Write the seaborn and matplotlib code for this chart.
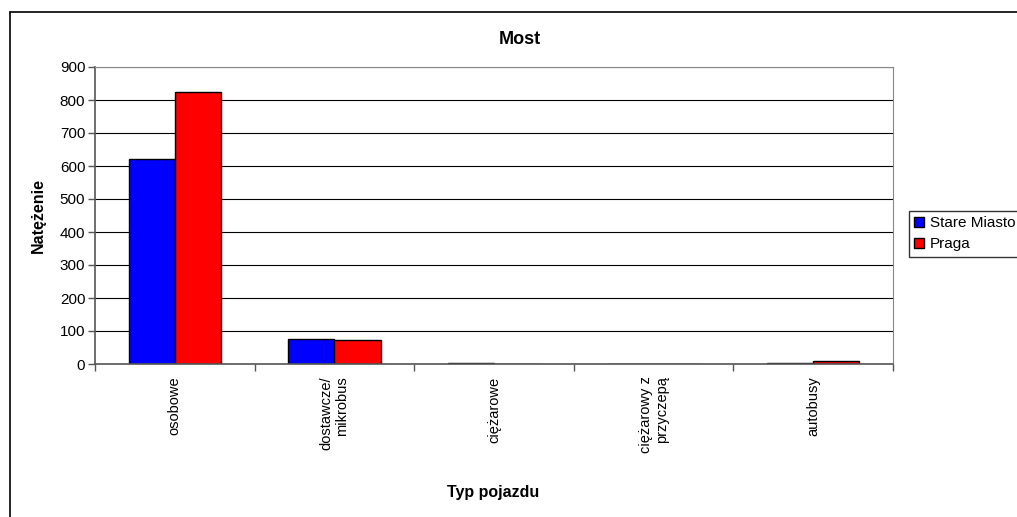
import matplotlib
matplotlib.use("Agg")
import matplotlib.pyplot as plt
from matplotlib.lines import Line2D
import seaborn as sns
import pandas as pd

categories = ["osobowe", "dostawcze/\nmikrobus", "ciężarowe", "ciężarowy z\nprzyczepą", "autobusy"]
series_names = ["Stare Miasto", "Praga"]
stare_miasto = [620, 77, 3, 0, 3]
praga = [823, 73, 0, 0, 8]
y_ticks = [0, 100, 200, 300, 400, 500, 600, 700, 800, 900]

rows = []
for cat, a, b in zip(categories, stare_miasto, praga):
    rows.append({"Typ": cat, "Seria": series_names[0], "Wartosc": a})
    rows.append({"Typ": cat, "Seria": series_names[1], "Wartosc": b})
df = pd.DataFrame(rows)

sns.set_theme(style="white")
plt.rcParams["font.family"] = ["Liberation Sans", "DejaVu Sans"]
plt.rcParams["text.color"] = "black"
plt.rcParams["axes.labelcolor"] = "black"
plt.rcParams["xtick.labelcolor"] = "black"
plt.rcParams["ytick.labelcolor"] = "black"

W, H = 1017, 517
fig = plt.figure(figsize=(W / 100, H / 100), dpi=100)
ax = fig.add_axes([95 / W, 1 - 364 / H, (893 - 95) / W, (364 - 67) / H])

sns.barplot(data=df, x="Typ", y="Wartosc", hue="Seria", order=categories,
            hue_order=series_names, palette=["#0000FF", "#FF0000"],
            width=0.58, edgecolor="black", linewidth=1.0, saturation=1,
            ax=ax, legend=True)

ax.set_ylim(0, 900)
ax.set_xlim(-0.5, len(categories) - 0.5)
ax.set_yticks(y_ticks)
ax.set_yticklabels([str(t) for t in y_ticks], fontsize=11, color="black")
ax.yaxis.grid(True, color="black", linewidth=0.8)
ax.set_axisbelow(True)

# category labels, rotated, with boundary tick marks between categories
ax.set_xticks(range(len(categories)))
ax.set_xticklabels(categories, rotation=90, fontsize=10.5, va="top", ha="center",
                   multialignment="right", color="black")
ax.tick_params(axis="x", length=0, pad=9)
ax.set_xticks([i - 0.5 for i in range(len(categories) + 1)], minor=True)
ax.tick_params(axis="x", which="minor", length=5, color="#555555", width=1, direction="out",
               bottom=True)
ax.tick_params(axis="y", length=5, color="#555555", width=1, direction="out", left=True,
               pad=2)

for side in ["left", "bottom"]:
    ax.spines[side].set_color("#555555")
    ax.spines[side].set_linewidth(1.2)
for side in ["top", "right"]:
    ax.spines[side].set_color("#888888")
    ax.spines[side].set_linewidth(0.8)

fig.text(520 / W, 1 - 40 / H, "Most", fontsize=13, fontweight="bold",
         ha="center", va="center", color="black")
ax.set_xlabel("Typ pojazdu", fontsize=11.5, fontweight="bold", color="black")
ax.set_ylabel("Natężenie", fontsize=11.5, fontweight="bold", color="black")
ax.xaxis.set_label_coords((493 - 95) / (893 - 95), -(492 - 364) / (364 - 67))
ax.yaxis.set_label_coords(-(95 - 38) / (893 - 95), 0.5)
ax.xaxis.label.set_va("center")
ax.yaxis.label.set_va("center")

leg = ax.legend(loc="upper left", bbox_to_anchor=(909 / W, 1 - 211 / H),
                bbox_transform=fig.transFigure, frameon=True, fancybox=False,
                fontsize=11, handlelength=0.6, handleheight=0.6, handletextpad=0.4,
                borderpad=0.35, labelspacing=0.45, borderaxespad=0)
leg.get_frame().set_edgecolor("black")
leg.get_frame().set_linewidth(1.0)
for t in leg.get_texts():
    t.set_color("black")

# outer chart border
fig.add_artist(Line2D([10 / W, 10 / W], [0, 1 - 12 / H], color="black", linewidth=1.2,
                      transform=fig.transFigure))
fig.add_artist(Line2D([10 / W, 1], [1 - 12 / H, 1 - 12 / H], color="black", linewidth=1.2,
                      transform=fig.transFigure))

fig.savefig("out.png", dpi=100, facecolor="white")
